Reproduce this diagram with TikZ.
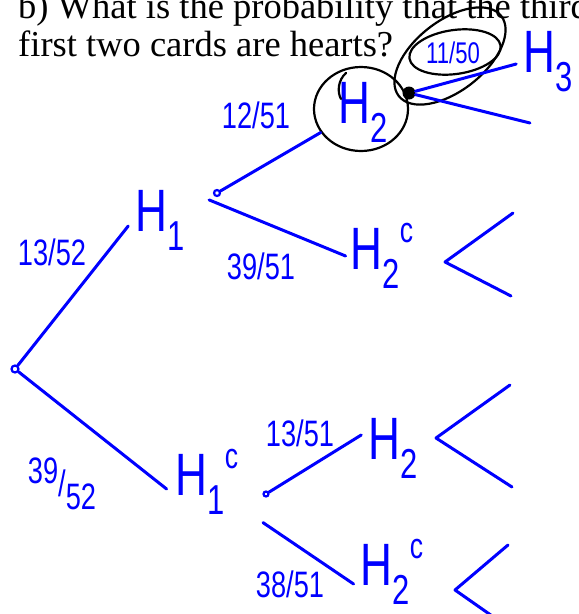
\documentclass[tikz,border=0pt]{standalone}
\usepackage{fontspec}
\setmainfont{Liberation Serif}
\newfontfamily\hand{Liberation Sans}
\usetikzlibrary{shapes.geometric}
\newcommand\Hsub[1]{H\raisebox{-0.32em}{\scalebox{0.7}{#1}}}
\newcommand\Hsubc[1]{H\raisebox{-0.32em}{\scalebox{0.7}{#1}}\raisebox{0.45em}{\scalebox{0.6}{c}}}
\newcommand\nar[1]{\scalebox{0.85}[1.15]{#1}}
\begin{document}
\begin{tikzpicture}[x=1pt,y=-1pt,
  br/.style={draw=blue, line width=3pt, line cap=round, line join=round},
  lbl/.style={text=blue, font=\hand\fontsize{32}{32}\selectfont, inner sep=0pt},
  ev/.style={text=blue, font=\hand\fontsize{52}{52}\selectfont, inner sep=1pt},
  bdot/.style={circle, draw=blue, line width=2.2pt, inner sep=0pt, minimum size=7pt},
  ink/.style={draw=black, line width=2.2pt},
  qtext/.style={anchor=base west, font=\fontsize{36.5}{36.5}\selectfont, inner sep=0pt}]
\useasboundingbox (0,0) rectangle (579,614);
\clip (0,0) rectangle (579,614);
\fill[white] (0,0) rectangle (579,614);
% question text
\node[qtext] (q1) at (18,18) {b) What is the probability that the third};
\node[qtext] (q2) at (18,56) {first two cards are hearts?};
% nodes
\node[bdot] (root) at (15,369) {};
\node[ev] (h1) at (160,220) {\nar{\Hsub{1}}};
\node[bdot, minimum size=6pt] (d1) at (217,193) {};
\node[ellipse, ink, minimum width=94pt, minimum height=84pt, inner sep=0pt] (h2a) at (361,109) {};
\node[ev] (h2at) at (363,112) {\nar{\Hsub{2}}};
\node[circle, fill=black, inner sep=0pt, minimum size=13pt] (d3) at (409,93) {};
\node[ev] (h3) at (548,62) {\nar{\Hsub{3}}};
\node[ev] (h2ca) at (382,256) {\nar{\Hsubc{2}}};
\node[ev] (h1c) at (207,482) {\nar{\Hsubc{1}}};
\node[bdot, minimum size=5pt] (d2) at (266,494) {};
\node[ev] (h2b) at (393,448) {\nar{\Hsub{2}}};
\node[ev] (h2cb) at (392,572) {\nar{\Hsubc{2}}};
% ellipses around 11/50
\node[ellipse, ink, minimum width=130pt, minimum height=70pt, rotate=38, inner sep=0pt] (oe) at (450,56) {};
\node[ellipse, ink, minimum width=92pt, minimum height=44pt, rotate=8, inner sep=0pt] (ie) at (455,52) {};
\node[lbl, font=\hand\fontsize{26}{26}\selectfont] (p1150) at (453,53) {\nar{11/50}};
\draw[ink, line cap=round] (346,73) .. controls (338,80) and (337,92) .. (341,99);
% probability labels
\node[lbl] (p1352) at (52,252) {\nar{13/52}};
\node[lbl] (p3952) at (62,484) {\nar{\raisebox{0.35em}{39}/\raisebox{-0.35em}{52}}};
\node[lbl] (p1251) at (256,115) {\nar{12/51}};
\node[lbl] (p3951) at (261,266) {\nar{39/51}};
\node[lbl] (p1351) at (300,433) {\nar{13/51}};
\node[lbl] (p3851) at (290,584) {\nar{38/51}};
% branches
\draw[br] (root) -- ([xshift=-6pt,yshift=-6pt]h1.west);
\draw[br] (root) -- ([xshift=-8pt,yshift=-7pt]h1c.west);
\draw[br] (d1) -- (h2a);
\draw[br] ([xshift=-5pt,yshift=-4pt]d1.south west) -- ([xshift=-4pt]h2ca.west);
\draw[br] (d3) -- ([xshift=-6pt,yshift=-2pt]h3.west);
\coordinate (h3low) at (530,123);
\draw[br] (d3) -- (h3low);
\draw[br] (d2) -- ([xshift=-6pt,yshift=13pt]h2b.west);
\draw[br] ([xshift=-3pt,yshift=-25pt]d2.south) -- ([xshift=-6pt,yshift=-12pt]h2cb.west);
% unfinished branches
\coordinate (a1) at (513,213); \coordinate (a0) at (445,262); \coordinate (a2) at (511,296);
\draw[br] (a1) -- (a0) -- (a2);
\coordinate (b1) at (510,385); \coordinate (b0) at (436,438); \coordinate (b2) at (512,487);
\draw[br] (b1) -- (b0) -- (b2);
\coordinate (c1) at (508,545); \coordinate (c0) at (455,590); \coordinate (c2) at (505,625);
\draw[br] (c1) -- (c0) -- (c2);
\end{tikzpicture}
\end{document}
